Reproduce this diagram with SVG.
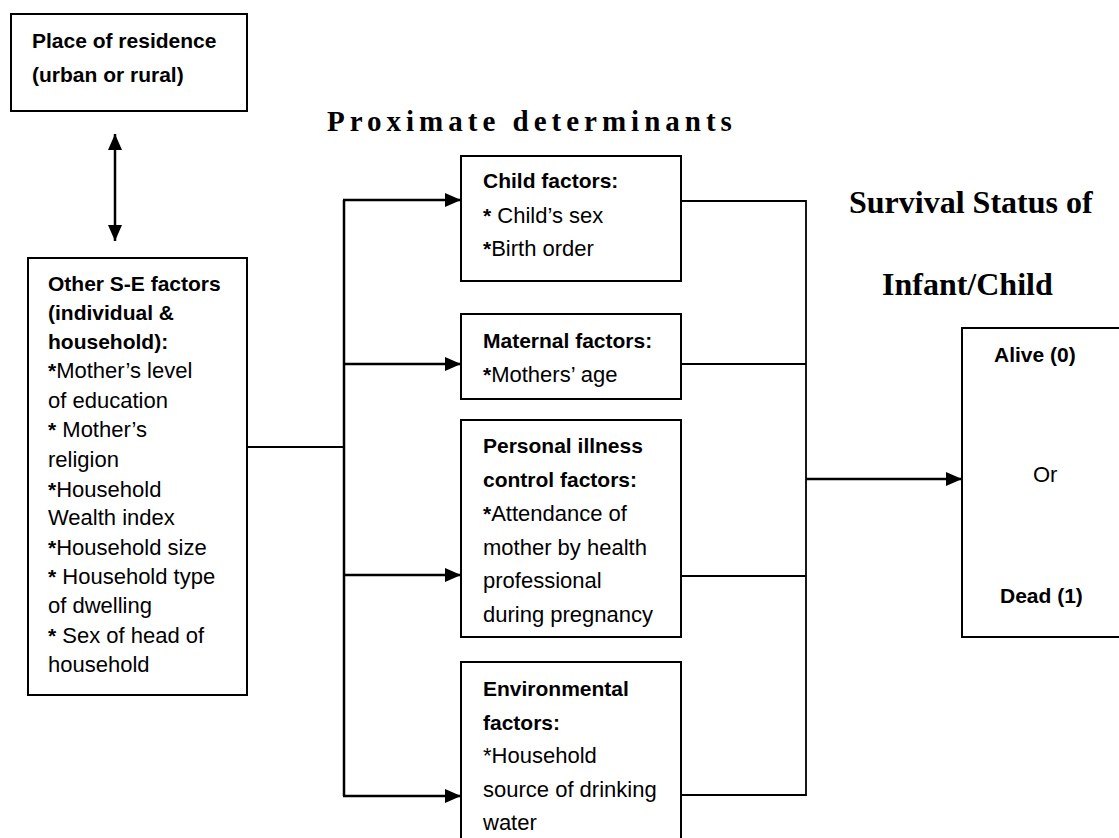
<svg xmlns="http://www.w3.org/2000/svg" width="1119" height="838" viewBox="0 0 1119 838">
<style>
  .box { fill: #fff; stroke: #000; stroke-width: 2; }
  .t { font-family: "Liberation Sans", Arial, sans-serif; font-size: 22px; fill: #000; }
  .b { font-weight: bold; font-size: 21px; }
  .title { font-family: "Liberation Serif", "Times New Roman", serif; font-weight: bold; fill: #000; }
  .line { fill: none; stroke: #000; stroke-width: 1.8; }
  .arr { fill: none; stroke: #000; stroke-width: 2.5; }
</style>
<defs>
  <marker id="ah" markerUnits="userSpaceOnUse" markerWidth="17" markerHeight="15" refX="16" refY="7" orient="auto-start-reverse">
    <path d="M0,0 L16,7 L0,14 z" fill="#000"/>
  </marker>
</defs>
<rect width="1119" height="838" fill="#fff"/>

<g id="connectors">
  <line class="arr" x1="115" y1="134" x2="115" y2="241" marker-start="url(#ah)" marker-end="url(#ah)"/>
  <line class="line" x1="247" y1="447" x2="344" y2="447"/>
  <line class="arr" x1="344" y1="200" x2="344" y2="796"/>
  <line class="arr" x1="343" y1="200" x2="461" y2="200" marker-end="url(#ah)"/>
  <line class="arr" x1="343" y1="364" x2="461" y2="364" marker-end="url(#ah)"/>
  <line class="arr" x1="343" y1="575" x2="461" y2="575" marker-end="url(#ah)"/>
  <line class="arr" x1="343" y1="796" x2="461" y2="796" marker-end="url(#ah)"/>
  <polyline class="line" points="681,201 806,201 806,795 681,795"/>
  <line class="line" x1="681" y1="364" x2="806" y2="364"/>
  <line class="line" x1="681" y1="576" x2="806" y2="576"/>
  <line class="arr" x1="806" y1="479" x2="962" y2="479" marker-end="url(#ah)"/>
</g>

<g id="titles">
  <text class="title" x="327" y="131" font-size="29" letter-spacing="5">Proximate determinants</text>
  <text class="title" x="849" y="213" font-size="32">Survival Status of</text>
  <text class="title" x="882" y="295" font-size="32">Infant/Child</text>
</g>

<g id="place">
  <rect class="box" x="11" y="14" width="236" height="97"/>
  <text class="t b" x="32" y="48">Place of residence</text>
  <text class="t b" x="32" y="82">(urban or rural)</text>
</g>

<g id="socioeconomic">
  <rect class="box" x="28" y="258" width="219" height="437"/>
  <text class="t b" x="48" y="291">Other S-E factors</text>
  <text class="t b" x="48" y="320">(individual &amp;</text>
  <text class="t b" x="48" y="349">household):</text>
  <text class="t" x="48" y="378"><tspan class="b">*</tspan>Mother’s level</text>
  <text class="t" x="48" y="408">of education</text>
  <text class="t" x="48" y="437"><tspan class="b">*</tspan> Mother’s</text>
  <text class="t" x="48" y="467">religion</text>
  <text class="t" x="48" y="497"><tspan class="b">*</tspan>Household</text>
  <text class="t" x="48" y="525">Wealth index</text>
  <text class="t" x="48" y="555"><tspan class="b">*</tspan>Household size</text>
  <text class="t" x="48" y="584"><tspan class="b">*</tspan> Household type</text>
  <text class="t" x="48" y="613">of dwelling</text>
  <text class="t" x="48" y="643"><tspan class="b">*</tspan> Sex of head of</text>
  <text class="t" x="48" y="672">household</text>
</g>

<g id="child">
  <rect class="box" x="461" y="156" width="220" height="125"/>
  <text class="t b" x="483" y="188">Child factors:</text>
  <text class="t" x="483" y="223"><tspan class="b">*</tspan> Child’s sex</text>
  <text class="t" x="483" y="256"><tspan class="b">*</tspan>Birth order</text>
</g>

<g id="maternal">
  <rect class="box" x="461" y="314" width="220" height="85"/>
  <text class="t b" x="483" y="348">Maternal factors:</text>
  <text class="t" x="483" y="382"><tspan class="b">*</tspan>Mothers’ age</text>
</g>

<g id="personal">
  <rect class="box" x="461" y="420" width="220" height="217"/>
  <text class="t b" x="483" y="453">Personal illness</text>
  <text class="t b" x="483" y="487">control factors:</text>
  <text class="t" x="483" y="521"><tspan class="b">*</tspan>Attendance of</text>
  <text class="t" x="483" y="555">mother by health</text>
  <text class="t" x="483" y="588">professional</text>
  <text class="t" x="483" y="622">during pregnancy</text>
</g>

<g id="environmental">
  <rect class="box" x="461" y="662" width="220" height="190"/>
  <text class="t b" x="483" y="696">Environmental</text>
  <text class="t b" x="483" y="730">factors:</text>
  <text class="t" x="483" y="763">*Household</text>
  <text class="t" x="483" y="797">source of drinking</text>
  <text class="t" x="483" y="830">water</text>
</g>

<g id="outcome">
  <rect class="box" x="962" y="328" width="170" height="309"/>
  <text class="t b" x="994" y="362">Alive (0)</text>
  <text class="t" x="1033" y="482">Or</text>
  <text class="t b" x="1000" y="603">Dead (1)</text>
</g>
</svg>
